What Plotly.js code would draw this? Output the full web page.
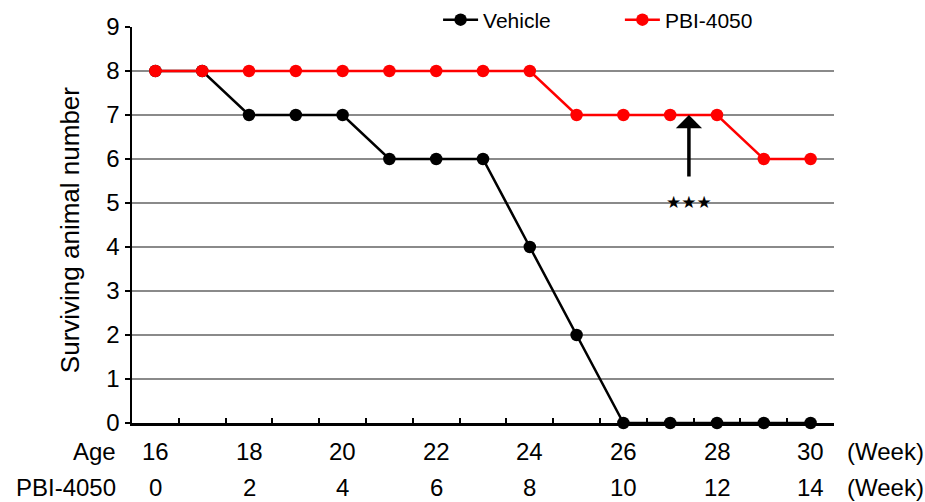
<!DOCTYPE html>
<html>
<head>
<meta charset="utf-8">
<script src="https://cdn.plot.ly/plotly-3.0.1.min.js"></script>
<style>html,body{margin:0;padding:0;background:#fff}#chart{width:925px;height:502px}</style>
</head>
<body>
<div id="chart"></div>
<script>
// Data
const ageWeeks = [16,17,18,19,20,21,22,23,24,25,26,27,28,29,30];
const vehicle  = [8,8,7,7,7,6,6,6,4,2,0,0,0,0,0];
const pbi4050  = [8,8,8,8,8,8,8,8,8,7,7,7,7,6,6];
const ageTickLabels = [16,18,20,22,24,26,28,30];
const pbiTickLabels = [0,2,4,6,8,10,12,14];
const arrowX = 27.4, arrowTipY = 7, arrowTailY = 5.57, starsY = 5.03;

const FONT = 'Liberation Sans, Arial, sans-serif';

const traces = [
  {x: ageWeeks, y: vehicle, name: 'Vehicle', type: 'scatter', mode: 'lines+markers',
   line: {color: '#000', width: 2.5}, marker: {color: '#000', size: 12.5},
   cliponaxis: false, legend: 'legend'},
  {x: ageWeeks, y: pbi4050, name: 'PBI-4050', type: 'scatter', mode: 'lines+markers',
   line: {color: '#ff0000', width: 2.5}, marker: {color: '#ff0000', size: 12.5},
   cliponaxis: false, legend: 'legend2'}
];

const ann = [];
ageTickLabels.forEach(v => ann.push({x: v, xref: 'x', y: -0.073, yref: 'paper', text: String(v),
  showarrow: false, xanchor: 'center', yanchor: 'middle', font: {size: 24, color: '#000', family: FONT}}));
pbiTickLabels.forEach((v, i) => ann.push({x: ageTickLabels[i], xref: 'x', y: -0.164, yref: 'paper', text: String(v),
  showarrow: false, xanchor: 'center', yanchor: 'middle', font: {size: 24, color: '#000', family: FONT}}));
[['Age', -0.073], ['PBI-4050', -0.164]].forEach(([t, y]) => ann.push({x: -0.02, xref: 'paper', y: y, yref: 'paper',
  text: t, showarrow: false, xanchor: 'right', yanchor: 'middle', font: {size: 24, color: '#000', family: FONT}}));
[-0.073, -0.164].forEach(y => ann.push({x: 1.0157, xref: 'paper', y: y, yref: 'paper', text: '(Week)',
  showarrow: false, xanchor: 'left', yanchor: 'middle', font: {size: 24, color: '#000', family: FONT}}));
ann.push({x: -0.0883, xref: 'paper', y: 0.487, yref: 'paper', text: 'Surviving animal number', textangle: -90,
  showarrow: false, xanchor: 'center', yanchor: 'middle', font: {size: 26, color: '#000', family: FONT}});
ann.push({x: arrowX, y: arrowTipY, xref: 'x', yref: 'y', ax: arrowX, ay: arrowTailY, axref: 'x', ayref: 'y',
  showarrow: true, arrowhead: 1, arrowsize: 1.25, arrowwidth: 3.5, arrowcolor: '#000', text: ''});
ann.push({x: arrowX, y: starsY, xref: 'x', yref: 'y', text: '★★★', showarrow: false,
  xanchor: 'center', yanchor: 'middle', font: {size: 17, color: '#000', family: 'DejaVu Sans'}});

const legendBase = {orientation: 'h', yref: 'paper', y: 1.0177, yanchor: 'middle', xanchor: 'left',
  bgcolor: 'rgba(0,0,0,0)', borderwidth: 0, itemwidth: 35, font: {size: 21, color: '#000', family: FONT}};

const layout = {
  width: 925, height: 502,
  margin: {l: 132, r: 91, t: 27, b: 79, autoexpand: false},
  paper_bgcolor: '#fff', plot_bgcolor: '#fff',
  font: {family: FONT, color: '#000'},
  showlegend: true,
  legend: Object.assign({}, legendBase, {x: 0.436}),
  legend2: Object.assign({}, legendBase, {x: 0.695}),
  xaxis: {range: [15.5, 30.5], tickmode: 'linear', tick0: 15.5, dtick: 1, showticklabels: false,
    ticks: 'inside', ticklen: 5, tickwidth: 2, tickcolor: '#000', showgrid: false, zeroline: false,
    showline: true, linecolor: '#000', linewidth: 2.5, fixedrange: true, layer: 'below traces'},
  yaxis: {range: [0, 9], tickmode: 'linear', tick0: 0, dtick: 1, ticks: 'outside', ticklen: 5, tickwidth: 2,
    tickcolor: '#000', showgrid: true, gridcolor: '#8a8a8a', gridwidth: 1.5, zeroline: false,
    showline: true, linecolor: '#000', linewidth: 2.5, tickfont: {size: 24, color: '#000', family: FONT},
    fixedrange: true, layer: 'below traces'},
  annotations: ann
};

Plotly.newPlot('chart', traces, layout, {displayModeBar: false, staticPlot: true});
</script>
</body>
</html>
